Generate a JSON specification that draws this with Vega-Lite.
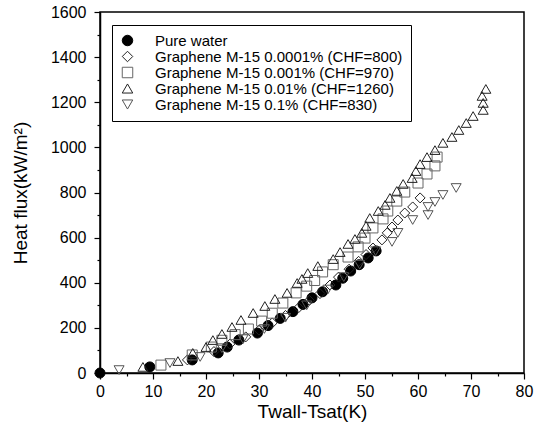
{
  "$schema": "https://vega.github.io/schema/vega-lite/v6.json",
  "width": 424,
  "height": 361,
  "autosize": {"type": "none"},
  "padding": {"left": 100, "top": 12, "right": 11, "bottom": 58},
  "background": "white",
  "config": {
    "font": "Liberation Sans",
    "view": {"stroke": "black", "strokeWidth": 1.5},
    "axis": {"labelFont": "Liberation Sans", "titleFont": "Liberation Sans", "labelColor": "black", "titleColor": "black", "domainColor": "black", "tickColor": "black", "titleFontWeight": "normal", "grid": false}
  },
  "data": {"values": [
    {"s": "Pure water", "t": 0, "q": 0},
    {"s": "Pure water", "t": 9.4, "q": 27},
    {"s": "Pure water", "t": 17.4, "q": 58},
    {"s": "Pure water", "t": 22.3, "q": 89},
    {"s": "Pure water", "t": 24, "q": 115},
    {"s": "Pure water", "t": 26.2, "q": 146},
    {"s": "Pure water", "t": 29.7, "q": 177},
    {"s": "Pure water", "t": 31.7, "q": 210},
    {"s": "Pure water", "t": 34, "q": 242},
    {"s": "Pure water", "t": 36.4, "q": 272},
    {"s": "Pure water", "t": 38.3, "q": 304},
    {"s": "Pure water", "t": 40, "q": 333},
    {"s": "Pure water", "t": 42, "q": 360},
    {"s": "Pure water", "t": 44.5, "q": 390},
    {"s": "Pure water", "t": 45.8, "q": 420},
    {"s": "Pure water", "t": 47.3, "q": 452},
    {"s": "Pure water", "t": 48.9, "q": 480},
    {"s": "Pure water", "t": 50.6, "q": 510},
    {"s": "Pure water", "t": 52.1, "q": 541},

    {"s": "Graphene M-15 0.0001% (CHF=800)", "t": 16.5, "q": 58},
    {"s": "Graphene M-15 0.0001% (CHF=800)", "t": 21.5, "q": 95},
    {"s": "Graphene M-15 0.0001% (CHF=800)", "t": 24.5, "q": 128},
    {"s": "Graphene M-15 0.0001% (CHF=800)", "t": 27.5, "q": 160},
    {"s": "Graphene M-15 0.0001% (CHF=800)", "t": 30, "q": 190},
    {"s": "Graphene M-15 0.0001% (CHF=800)", "t": 32.5, "q": 222},
    {"s": "Graphene M-15 0.0001% (CHF=800)", "t": 35, "q": 255},
    {"s": "Graphene M-15 0.0001% (CHF=800)", "t": 37.5, "q": 290},
    {"s": "Graphene M-15 0.0001% (CHF=800)", "t": 39.5, "q": 322},
    {"s": "Graphene M-15 0.0001% (CHF=800)", "t": 41.5, "q": 352},
    {"s": "Graphene M-15 0.0001% (CHF=800)", "t": 43.4, "q": 390},
    {"s": "Graphene M-15 0.0001% (CHF=800)", "t": 45, "q": 425},
    {"s": "Graphene M-15 0.0001% (CHF=800)", "t": 47, "q": 460},
    {"s": "Graphene M-15 0.0001% (CHF=800)", "t": 48.8, "q": 495},
    {"s": "Graphene M-15 0.0001% (CHF=800)", "t": 50.2, "q": 525},
    {"s": "Graphene M-15 0.0001% (CHF=800)", "t": 51.5, "q": 554},
    {"s": "Graphene M-15 0.0001% (CHF=800)", "t": 53.2, "q": 590},
    {"s": "Graphene M-15 0.0001% (CHF=800)", "t": 54.2, "q": 621},
    {"s": "Graphene M-15 0.0001% (CHF=800)", "t": 55.1, "q": 647},
    {"s": "Graphene M-15 0.0001% (CHF=800)", "t": 56.2, "q": 678},
    {"s": "Graphene M-15 0.0001% (CHF=800)", "t": 57.5, "q": 709},
    {"s": "Graphene M-15 0.0001% (CHF=800)", "t": 59, "q": 736},
    {"s": "Graphene M-15 0.0001% (CHF=800)", "t": 60.4, "q": 776},

    {"s": "Graphene M-15 0.001% (CHF=970)", "t": 11.5, "q": 35},
    {"s": "Graphene M-15 0.001% (CHF=970)", "t": 17.4, "q": 80},
    {"s": "Graphene M-15 0.001% (CHF=970)", "t": 21, "q": 115},
    {"s": "Graphene M-15 0.001% (CHF=970)", "t": 23, "q": 145},
    {"s": "Graphene M-15 0.001% (CHF=970)", "t": 25.5, "q": 170},
    {"s": "Graphene M-15 0.001% (CHF=970)", "t": 28, "q": 195},
    {"s": "Graphene M-15 0.001% (CHF=970)", "t": 30.5, "q": 230},
    {"s": "Graphene M-15 0.001% (CHF=970)", "t": 32.5, "q": 265},
    {"s": "Graphene M-15 0.001% (CHF=970)", "t": 34.5, "q": 310},
    {"s": "Graphene M-15 0.001% (CHF=970)", "t": 37, "q": 355},
    {"s": "Graphene M-15 0.001% (CHF=970)", "t": 39, "q": 385},
    {"s": "Graphene M-15 0.001% (CHF=970)", "t": 40.5, "q": 410},
    {"s": "Graphene M-15 0.001% (CHF=970)", "t": 42, "q": 448},
    {"s": "Graphene M-15 0.001% (CHF=970)", "t": 44, "q": 480},
    {"s": "Graphene M-15 0.001% (CHF=970)", "t": 46.8, "q": 514},
    {"s": "Graphene M-15 0.001% (CHF=970)", "t": 48.7, "q": 559},
    {"s": "Graphene M-15 0.001% (CHF=970)", "t": 50, "q": 598},
    {"s": "Graphene M-15 0.001% (CHF=970)", "t": 51.5, "q": 643},
    {"s": "Graphene M-15 0.001% (CHF=970)", "t": 53.4, "q": 683},
    {"s": "Graphene M-15 0.001% (CHF=970)", "t": 54.3, "q": 718},
    {"s": "Graphene M-15 0.001% (CHF=970)", "t": 56, "q": 762},
    {"s": "Graphene M-15 0.001% (CHF=970)", "t": 57.5, "q": 802},
    {"s": "Graphene M-15 0.001% (CHF=970)", "t": 60, "q": 842},
    {"s": "Graphene M-15 0.001% (CHF=970)", "t": 61.7, "q": 882},
    {"s": "Graphene M-15 0.001% (CHF=970)", "t": 63.2, "q": 918},
    {"s": "Graphene M-15 0.001% (CHF=970)", "t": 63.6, "q": 957},

    {"s": "Graphene M-15 0.01% (CHF=1260)", "t": 8.1, "q": 27},
    {"s": "Graphene M-15 0.01% (CHF=1260)", "t": 14.7, "q": 53},
    {"s": "Graphene M-15 0.01% (CHF=1260)", "t": 17.5, "q": 89},
    {"s": "Graphene M-15 0.01% (CHF=1260)", "t": 20, "q": 115},
    {"s": "Graphene M-15 0.01% (CHF=1260)", "t": 21.3, "q": 146},
    {"s": "Graphene M-15 0.01% (CHF=1260)", "t": 23, "q": 173},
    {"s": "Graphene M-15 0.01% (CHF=1260)", "t": 24.9, "q": 204},
    {"s": "Graphene M-15 0.01% (CHF=1260)", "t": 26.6, "q": 235},
    {"s": "Graphene M-15 0.01% (CHF=1260)", "t": 28.9, "q": 266},
    {"s": "Graphene M-15 0.01% (CHF=1260)", "t": 31.1, "q": 297},
    {"s": "Graphene M-15 0.01% (CHF=1260)", "t": 33, "q": 328},
    {"s": "Graphene M-15 0.01% (CHF=1260)", "t": 35.3, "q": 355},
    {"s": "Graphene M-15 0.01% (CHF=1260)", "t": 37.2, "q": 399},
    {"s": "Graphene M-15 0.01% (CHF=1260)", "t": 38.1, "q": 417},
    {"s": "Graphene M-15 0.01% (CHF=1260)", "t": 39.2, "q": 443},
    {"s": "Graphene M-15 0.01% (CHF=1260)", "t": 41.1, "q": 474},
    {"s": "Graphene M-15 0.01% (CHF=1260)", "t": 44, "q": 505},
    {"s": "Graphene M-15 0.01% (CHF=1260)", "t": 45.3, "q": 536},
    {"s": "Graphene M-15 0.01% (CHF=1260)", "t": 46.8, "q": 572},
    {"s": "Graphene M-15 0.01% (CHF=1260)", "t": 48.1, "q": 594},
    {"s": "Graphene M-15 0.01% (CHF=1260)", "t": 49.4, "q": 621},
    {"s": "Graphene M-15 0.01% (CHF=1260)", "t": 50.2, "q": 652},
    {"s": "Graphene M-15 0.01% (CHF=1260)", "t": 50.9, "q": 687},
    {"s": "Graphene M-15 0.01% (CHF=1260)", "t": 52.5, "q": 718},
    {"s": "Graphene M-15 0.01% (CHF=1260)", "t": 53.8, "q": 745},
    {"s": "Graphene M-15 0.01% (CHF=1260)", "t": 54.7, "q": 776},
    {"s": "Graphene M-15 0.01% (CHF=1260)", "t": 56, "q": 807},
    {"s": "Graphene M-15 0.01% (CHF=1260)", "t": 57.2, "q": 838},
    {"s": "Graphene M-15 0.01% (CHF=1260)", "t": 58.9, "q": 864},
    {"s": "Graphene M-15 0.01% (CHF=1260)", "t": 59.6, "q": 895},
    {"s": "Graphene M-15 0.01% (CHF=1260)", "t": 60.4, "q": 926},
    {"s": "Graphene M-15 0.01% (CHF=1260)", "t": 61.7, "q": 957},
    {"s": "Graphene M-15 0.01% (CHF=1260)", "t": 63.2, "q": 988},
    {"s": "Graphene M-15 0.01% (CHF=1260)", "t": 64.7, "q": 1020},
    {"s": "Graphene M-15 0.01% (CHF=1260)", "t": 66.4, "q": 1046},
    {"s": "Graphene M-15 0.01% (CHF=1260)", "t": 67.7, "q": 1077},
    {"s": "Graphene M-15 0.01% (CHF=1260)", "t": 69.1, "q": 1108},
    {"s": "Graphene M-15 0.01% (CHF=1260)", "t": 70.4, "q": 1139},
    {"s": "Graphene M-15 0.01% (CHF=1260)", "t": 72.3, "q": 1166},
    {"s": "Graphene M-15 0.01% (CHF=1260)", "t": 72.3, "q": 1197},
    {"s": "Graphene M-15 0.01% (CHF=1260)", "t": 72.1, "q": 1228},
    {"s": "Graphene M-15 0.01% (CHF=1260)", "t": 72.8, "q": 1259},

    {"s": "Graphene M-15 0.1% (CHF=830)", "t": 3.6, "q": 13},
    {"s": "Graphene M-15 0.1% (CHF=830)", "t": 13.2, "q": 44},
    {"s": "Graphene M-15 0.1% (CHF=830)", "t": 18.9, "q": 71},
    {"s": "Graphene M-15 0.1% (CHF=830)", "t": 23, "q": 110},
    {"s": "Graphene M-15 0.1% (CHF=830)", "t": 27, "q": 150},
    {"s": "Graphene M-15 0.1% (CHF=830)", "t": 31, "q": 195},
    {"s": "Graphene M-15 0.1% (CHF=830)", "t": 35, "q": 245},
    {"s": "Graphene M-15 0.1% (CHF=830)", "t": 39, "q": 300},
    {"s": "Graphene M-15 0.1% (CHF=830)", "t": 43, "q": 370},
    {"s": "Graphene M-15 0.1% (CHF=830)", "t": 46, "q": 425},
    {"s": "Graphene M-15 0.1% (CHF=830)", "t": 49, "q": 480},
    {"s": "Graphene M-15 0.1% (CHF=830)", "t": 52, "q": 540},
    {"s": "Graphene M-15 0.1% (CHF=830)", "t": 55.1, "q": 581},
    {"s": "Graphene M-15 0.1% (CHF=830)", "t": 56.2, "q": 621},
    {"s": "Graphene M-15 0.1% (CHF=830)", "t": 59, "q": 678},
    {"s": "Graphene M-15 0.1% (CHF=830)", "t": 61.9, "q": 700},
    {"s": "Graphene M-15 0.1% (CHF=830)", "t": 61.9, "q": 736},
    {"s": "Graphene M-15 0.1% (CHF=830)", "t": 63.2, "q": 758},
    {"s": "Graphene M-15 0.1% (CHF=830)", "t": 64.7, "q": 789},
    {"s": "Graphene M-15 0.1% (CHF=830)", "t": 67.2, "q": 820}
  ]},
  "mark": {"type": "point", "size": 100, "strokeWidth": 1, "clip": false, "opacity": 1},
  "encoding": {
    "x": {
      "field": "t", "type": "quantitative",
      "scale": {"domain": [0, 80], "nice": false, "zero": false},
      "axis": {
        "title": "Twall-Tsat(K)",
        "values": [0,5,10,15,20,25,30,35,40,45,50,55,60,65,70,75,80],
        "labelExpr": "datum.value % 10 === 0 ? datum.label : ''",
        "tickSize": {"condition": {"test": "datum.value % 10 === 0", "value": 6}, "value": 3},
        "labelFontSize": 16, "titleFontSize": 19, "labelPadding": 4, "titlePadding": 3,
        "domainWidth": 1.5, "tickWidth": 1.2, "labelFlush": false
      }
    },
    "y": {
      "field": "q", "type": "quantitative",
      "scale": {"domain": [0, 1600], "nice": false},
      "axis": {
        "title": "Heat flux(kW/m²)",
        "values": [0,100,200,300,400,500,600,700,800,900,1000,1100,1200,1300,1400,1500,1600],
        "labelExpr": "datum.value % 200 === 0 ? datum.label : ''",
        "format": "d",
        "tickSize": {"condition": {"test": "datum.value % 200 === 0", "value": 6}, "value": 3},
        "labelFontSize": 16, "titleFontSize": 19, "labelPadding": 8, "titlePadding": 20,
        "domainWidth": 1.5, "tickWidth": 1.2, "labelFlush": false
      }
    },
    "shape": {
      "field": "s", "type": "nominal",
      "scale": {
        "domain": ["Pure water", "Graphene M-15 0.0001% (CHF=800)", "Graphene M-15 0.001% (CHF=970)", "Graphene M-15 0.01% (CHF=1260)", "Graphene M-15 0.1% (CHF=830)"],
        "range": ["circle", "diamond", "square", "triangle-up", "triangle-down"]
      },
      "legend": {
        "title": null, "orient": "none", "legendX": 12, "legendY": 13,
        "strokeColor": "black", "fillColor": "white",
        "padding": 8, "labelFontSize": 15, "labelColor": "black", "labelFont": "Liberation Sans",
        "symbolSize": 110, "rowPadding": 0, "labelOffset": 20, "symbolStrokeWidth": 1, "labelLimit": 400
      }
    },
    "fill": {
      "field": "s", "type": "nominal",
      "scale": {
        "domain": ["Pure water", "Graphene M-15 0.0001% (CHF=800)", "Graphene M-15 0.001% (CHF=970)", "Graphene M-15 0.01% (CHF=1260)", "Graphene M-15 0.1% (CHF=830)"],
        "range": ["black", "transparent", "transparent", "transparent", "transparent"]
      }
    },
    "stroke": {
      "field": "s", "type": "nominal",
      "scale": {
        "domain": ["Pure water", "Graphene M-15 0.0001% (CHF=800)", "Graphene M-15 0.001% (CHF=970)", "Graphene M-15 0.01% (CHF=1260)", "Graphene M-15 0.1% (CHF=830)"],
        "range": ["black", "#222222", "#666666", "#222222", "#555555"]
      }
    }
  }
}
